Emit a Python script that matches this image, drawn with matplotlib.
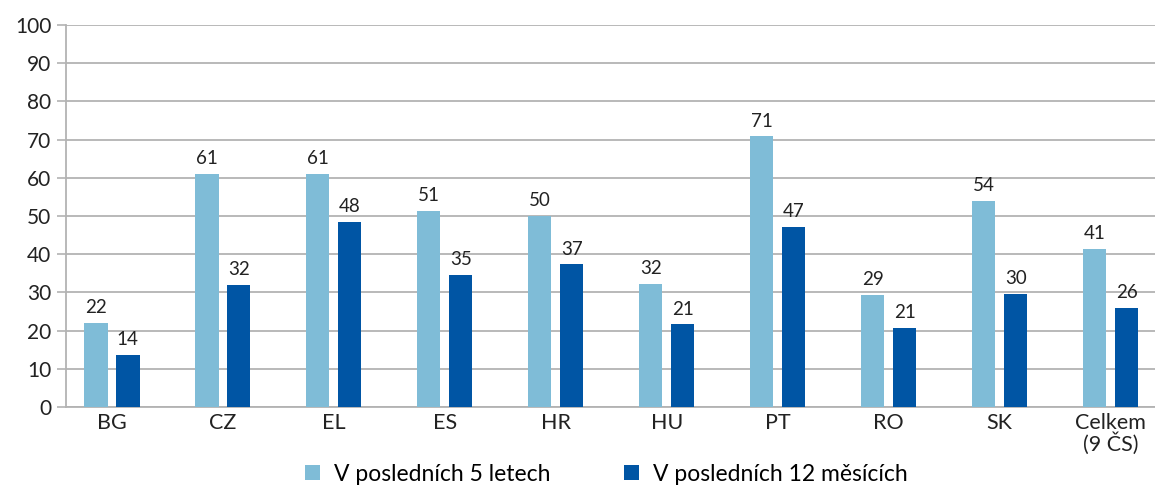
import numpy as np
import matplotlib
matplotlib.use("Agg")
import matplotlib.pyplot as plt

plt.rcParams['font.family'] = ['Lato', 'DejaVu Sans']

# data
categories = ["BG", "CZ", "EL", "ES", "HR", "HU", "PT", "RO", "SK", "Celkem\n(9 ČS)"]
last_5_years = [22.1, 61.0, 61.0, 51.2, 50.0, 32.3, 70.8, 29.2, 54.0, 41.3]
last_12_months = [13.6, 32.0, 48.5, 34.6, 37.3, 21.6, 47.2, 20.7, 29.7, 25.8]
labels_5y = ["22", "61", "61", "51", "50", "32", "71", "29", "54", "41"]
labels_12m = ["14", "32", "48", "35", "37", "21", "47", "21", "30", "26"]
series_names = ["V posledních 5 letech", "V posledních 12 měsících"]

light = "#7fbcd7"
dark = "#0055a4"
grid_c = "#b3b3b3"

fig = plt.figure(figsize=(11.55, 4.88), dpi=100)
ax = fig.add_axes([0.057, 0.166, 0.943, 0.783])

x = np.arange(len(categories))
w = 0.21
off = 0.144
b1 = ax.bar(x - off, last_5_years, w, color=light, label=series_names[0], zorder=3)
b2 = ax.bar(x + off, last_12_months, w, color=dark, label=series_names[1], zorder=3)

for rect, lab in zip(b1, labels_5y):
    ax.annotate(lab, (rect.get_x() + rect.get_width() / 2, rect.get_height()),
                xytext=(0, 5), textcoords="offset points", ha="center", va="bottom",
                fontsize=13.5, color="#222222")
for rect, lab in zip(b2, labels_12m):
    ax.annotate(lab, (rect.get_x() + rect.get_width() / 2, rect.get_height()),
                xytext=(0, 5), textcoords="offset points", ha="center", va="bottom",
                fontsize=13.5, color="#222222")

ax.set_ylim(0, 100)
ax.set_yticks(range(0, 101, 10))
ax.set_xlim(-0.415, 9.40)
ax.set_xticks(x)
ax.set_xticklabels(categories, fontsize=15.5, color="#222222", linespacing=1.0)
ax.tick_params(axis="x", length=0, pad=4)
ax.tick_params(axis="y", length=6.5, width=1.2, color=grid_c, labelsize=15,
               labelcolor="#222222", pad=4)

ax.yaxis.grid(True, color=grid_c, linewidth=1.3, zorder=0)
for s in ["top", "right"]:
    ax.spines[s].set_visible(False)
ax.spines["left"].set_color(grid_c)
ax.spines["left"].set_linewidth(1.3)
ax.spines["bottom"].set_color(grid_c)
ax.spines["bottom"].set_linewidth(1.3)

fig.legend(handles=[b1, b2], loc="center", bbox_to_anchor=(0.525, 0.028), ncol=2,
           frameon=False, fontsize=16.5, handlelength=0.65, handleheight=0.65,
           handletextpad=0.6, columnspacing=3.2)

fig.savefig("out.png", dpi=100)
